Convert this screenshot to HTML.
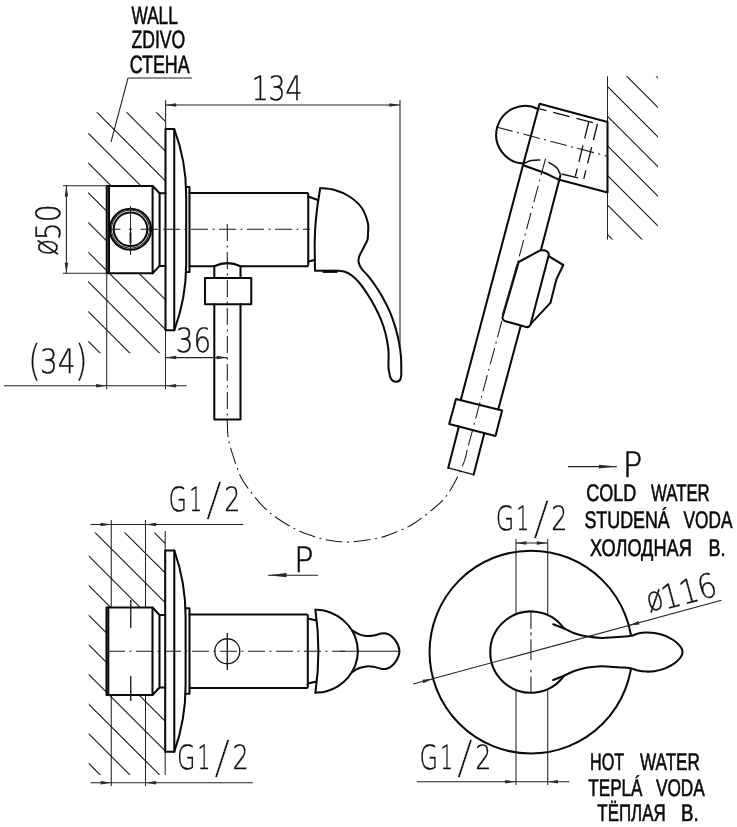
<!DOCTYPE html>
<html><head><meta charset="utf-8"><title>drawing</title>
<style>
html,body{margin:0;padding:0;background:#fff}
svg{display:block;filter:grayscale(1)}
text{text-rendering:geometricPrecision}
.k{fill:none;stroke:#0a0a0a;stroke-width:2.05;stroke-linejoin:round;stroke-linecap:round}
.kk{fill:none;stroke:#0a0a0a;stroke-width:3}
.m{fill:none;stroke:#111;stroke-width:1.3}
.t{fill:none;stroke:#222;stroke-width:1.05}
.h{fill:none;stroke:#111;stroke-width:1.05}
.c{fill:none;stroke:#1a1a1a;stroke-width:1.05;stroke-dasharray:17 4.5 2 4.5}
.d{fill:none;stroke:#111;stroke-width:1.3;stroke-dasharray:17 7}
.ar{fill:#2a2a2a;stroke:none}
.lb{font-family:"Liberation Sans","Noto Sans CJK SC",sans-serif;font-size:24px;fill:#0a0a0a;stroke:#0a0a0a;stroke-width:0.6px}
.dm{font-family:"DejaVu Sans Light","DejaVu Sans","Liberation Sans",sans-serif;font-weight:200;font-size:33.5px;fill:#111;stroke:#111;stroke-width:0.35px}
.pp{font-family:"DejaVu Sans Light","DejaVu Sans","Liberation Sans",sans-serif;font-weight:200;font-size:35px;fill:#111;stroke:#111;stroke-width:0.6px}
</style></head><body>
<svg width="737" height="827" viewBox="0 0 737 827">
<rect width="737" height="827" fill="#fff"/>
<text class="lb" x="131.5" y="23.7" textLength="46.3" lengthAdjust="spacingAndGlyphs" style="font-size:25px">WALL</text>
<text class="lb" x="131.5" y="48.3" textLength="53.8" lengthAdjust="spacingAndGlyphs" style="font-size:25px">ZDIVO</text>
<text class="lb" x="129.7" y="73" textLength="60" lengthAdjust="spacingAndGlyphs" style="font-size:25px">СТЕНА</text>
<line class="t" x1="128" y1="78" x2="192" y2="78"/>
<line class="t" x1="128" y1="78" x2="111" y2="142"/>
<clipPath id="h1"><path clip-rule="evenodd" d="M88.3,112.3 H165.5 V353.3 H88.3 Z M106.75,186 H165.5 V273.3 H106.75 Z"/></clipPath>
<g clip-path="url(#h1)">
<line class="h" x1="151.3" y1="107.3" x2="402.3" y2="358.3"/>
<line class="h" x1="121.6" y1="107.3" x2="372.6" y2="358.3"/>
<line class="h" x1="91.9" y1="107.3" x2="342.9" y2="358.3"/>
<line class="h" x1="62.2" y1="107.3" x2="313.2" y2="358.3"/>
<line class="h" x1="32.5" y1="107.3" x2="283.5" y2="358.3"/>
<line class="h" x1="2.8" y1="107.3" x2="253.8" y2="358.3"/>
<line class="h" x1="-26.9" y1="107.3" x2="224.1" y2="358.3"/>
<line class="h" x1="-56.6" y1="107.3" x2="194.4" y2="358.3"/>
<line class="h" x1="-86.3" y1="107.3" x2="164.7" y2="358.3"/>
<line class="h" x1="-116" y1="107.3" x2="135" y2="358.3"/>
<line class="h" x1="-145.7" y1="107.3" x2="105.3" y2="358.3"/>
</g>
<line class="t" x1="62.9" y1="185.8" x2="106.75" y2="185.8"/>
<line class="t" x1="62.9" y1="273.3" x2="106.75" y2="273.3"/>
<line class="t" x1="66.4" y1="185.8" x2="66.4" y2="273.3"/>
<polygon class="ar" points="66.4,185.8 68.15,196.4 64.65,196.4"/>
<polygon class="ar" points="66.4,273.3 64.65,262.7 68.15,262.7"/>
<text class="dm" transform="translate(57.2,255.8) rotate(-90)" textLength="17" lengthAdjust="spacingAndGlyphs">ø</text>
<text class="dm" transform="translate(60.4,240.3) rotate(-90)" textLength="36" lengthAdjust="spacingAndGlyphs">50</text>
<path class="k" d="M106.75,186 H152.6 L159.6,193.3 V265.9 L152.6,273.3 H106.75 Z"/>
<line class="k" x1="152.6" y1="186" x2="152.6" y2="273.3"/>
<line class="k" x1="109" y1="186" x2="109" y2="273.3"/>
<line class="k" x1="159.6" y1="193.3" x2="165.5" y2="193.3"/>
<line class="k" x1="159.6" y1="265.9" x2="165.5" y2="265.9"/>
<circle class="k" cx="130.5" cy="229.25" r="20.6"/>
<circle class="t" cx="130.5" cy="229.25" r="19"/>
<circle class="k" cx="130.5" cy="229.25" r="16.8"/>
<line class="t" x1="130.5" y1="206" x2="130.5" y2="255"/>
<line class="m" style="stroke-width:1.9" x1="130.5" y1="232.5" x2="130.5" y2="243.5"/>
<path class="k" d="M165.5,129 H174.25 V330.3 H165.5 Z"/>
<path class="k" d="M174.25,129 A189,189 0 0 1 186.2,195 V264.3 A189,189 0 0 1 174.25,330.3"/>
<path class="k" d="M186.25,187 H189.5 V272 H186.25"/>
<path class="k" d="M189.5,193 H307.2 L308.25,194.2 V265 L307.2,266.25 H240.5 M214.3,266.25 H189.5"/>
<path class="k" d="M308.25,196.5 L317.75,200 M308.25,261.5 L314.5,260"/>
<line class="c" style="stroke-dasharray:8.5 8.5 3.3 8.5 8.6 3.6 5 3.7" x1="111.9" y1="229.25" x2="160" y2="229.25"/>
<line class="c" x1="163" y1="229.25" x2="310" y2="229.25"/>
<path class="k" d="M214.3,278 V266.25 Q227.3,260 240.5,266.25 V278"/>
<path class="k" d="M205,278 H251.25 V304.25 H205 Z"/>
<path class="k" d="M214.3,304.25 V419.4 H240.5 V304.25"/>
<line class="c" x1="227.3" y1="224" x2="227.3" y2="421"/>
<path class="k" d="M320.25,188 C322.54,188.28 329.21,188.32 334,189.7 C338.79,191.07 344.42,193.28 349,196.25 C353.58,199.22 358.38,203.12 361.5,207.5 C364.62,211.88 366.67,218.25 367.75,222.5 C368.83,226.75 368.06,230.08 368,233 C367.94,235.92 368.12,237.58 367.4,240 C366.68,242.42 365.07,244.75 363.7,247.5 C362.33,250.25 360.03,254 359.2,256.5 C358.37,259 358.33,260.5 358.7,262.5 C359.07,264.5 359.95,266.38 361.4,268.5 C362.85,270.62 365.15,272.45 367.4,275.2 C369.65,277.95 372.4,281.37 374.9,285 C377.4,288.63 379.9,292.52 382.4,297 C384.9,301.48 387.77,306.92 389.9,311.9 C392.03,316.88 393.7,321.9 395.2,326.9 C396.7,331.9 397.93,336.88 398.9,341.9 C399.87,346.92 400.6,351.48 401,357 C401.4,362.52 401.25,372 401.3,375 C401.08,375.83 400.95,378.87 400,380 C399.05,381.13 397.02,381.88 395.6,381.8 C394.18,381.72 392.43,380.43 391.5,379.5 C390.57,378.57 390.25,376.79 390,376.25 C389.75,374.79 388.73,370.62 388.5,367.5 C388.27,364.38 388.65,360.77 388.6,357.5 C388.55,354.23 388.73,352 388.2,347.9 C387.67,343.8 386.62,337.65 385.4,332.9 C384.18,328.15 382.65,323.77 380.9,319.4 C379.15,315.03 377.15,310.93 374.9,306.7 C372.65,302.47 369.9,297.87 367.4,294 C364.9,290.13 362.38,286.5 359.9,283.5 C357.42,280.5 354.98,277.95 352.5,276 C350.02,274.05 347.5,272.68 345,271.8 C342.5,270.92 338.75,270.88 337.5,270.7 L315,270.7 C314.95,266.42 314.66,252.2 314.7,245 C314.74,237.8 314.82,233.75 315.25,227.5 C315.68,221.25 316.42,214.08 317.25,207.5 C318.08,200.92 319.75,191.25 320.25,188"/>
<line class="kk" x1="322.5" y1="271.4" x2="337.5" y2="271.4"/>
<line class="t" x1="165.6" y1="100" x2="165.6" y2="129"/>
<line class="t" x1="400" y1="100" x2="400" y2="346"/>
<line class="t" x1="165.6" y1="105" x2="400" y2="105"/>
<polygon class="ar" points="165.6,105 176.2,103.25 176.2,106.75"/>
<polygon class="ar" points="400,105 389.4,106.75 389.4,103.25"/>
<text class="dm" x="251.4" y="100" textLength="51" lengthAdjust="spacingAndGlyphs">134</text>
<line class="t" x1="165.5" y1="357.6" x2="227.3" y2="357.6"/>
<polygon class="ar" points="165.5,357.6 176.1,355.85 176.1,359.35"/>
<polygon class="ar" points="227.3,357.6 216.7,359.35 216.7,355.85"/>
<text class="dm" x="175.8" y="352.2" textLength="35.4" lengthAdjust="spacingAndGlyphs">36</text>
<line class="t" x1="106.75" y1="273" x2="106.75" y2="389.3"/>
<line class="t" x1="165.5" y1="330.3" x2="165.5" y2="389.3"/>
<line class="t" x1="4" y1="385.8" x2="186.7" y2="385.8"/>
<polygon class="ar" points="106.75,385.8 96.15,387.55 96.15,384.05"/>
<polygon class="ar" points="165.5,385.8 176.1,384.05 176.1,387.55"/>
<text class="dm" x="28" y="375.1" textLength="13" lengthAdjust="spacingAndGlyphs" style="font-size:42.5px;stroke-width:0.15px">(</text>
<text class="dm" x="40.1" y="372.7" textLength="35.4" lengthAdjust="spacingAndGlyphs">34</text>
<text class="dm" x="74.7" y="375.1" textLength="13" lengthAdjust="spacingAndGlyphs" style="font-size:42.5px;stroke-width:0.15px">)</text>
<path class="c" d="M227.3,420 C227.47,423.08 227.35,432.57 228.3,438.5 C229.25,444.43 230.95,449.27 233,455.6 C235.05,461.93 237.9,470.8 240.6,476.5 C243.3,482.2 245.55,484.9 249.2,489.8 C252.85,494.7 258.07,501.32 262.5,505.9 C266.93,510.48 270.73,513.65 275.8,517.3 C280.87,520.95 287.52,524.95 292.9,527.8 C298.28,530.65 302.4,532.35 308.1,534.4 C313.8,536.45 320.12,538.83 327.1,540.1 C334.08,541.37 341.18,542.4 350,542 C358.82,541.6 371.6,539.67 380,537.7 C388.4,535.73 394.57,532.68 400.4,530.2 C406.23,527.72 409.72,526.2 415,522.8 C420.28,519.4 427.08,514 432.1,509.8 C437.12,505.6 441.17,502.48 445.1,497.6 C449.03,492.72 452.43,486.75 455.7,480.5 C458.97,474.25 462.73,465.52 464.7,460.1 C466.67,454.68 467.03,450.02 467.5,448"/>
<line class="t" x1="607.5" y1="76.25" x2="607.5" y2="239.5"/>
<clipPath id="h2"><path clip-rule="evenodd" d="M607.5,76.25 H658 V239.5 H607.5 Z"/></clipPath>
<g clip-path="url(#h2)">
<line class="h" x1="651.35" y1="71.25" x2="824.6" y2="244.5"/>
<line class="h" x1="621.75" y1="71.25" x2="795" y2="244.5"/>
<line class="h" x1="592.15" y1="71.25" x2="765.4" y2="244.5"/>
<line class="h" x1="562.55" y1="71.25" x2="735.8" y2="244.5"/>
<line class="h" x1="532.95" y1="71.25" x2="706.2" y2="244.5"/>
<line class="h" x1="503.35" y1="71.25" x2="676.6" y2="244.5"/>
<line class="h" x1="473.75" y1="71.25" x2="647" y2="244.5"/>
<line class="h" x1="444.15" y1="71.25" x2="617.4" y2="244.5"/>
</g>
<path class="k" d="M523.3,164.1 L539.6,103.8 L607.5,122 V192.5 L558.5,179.5 C554,178 550,174.8 542.8,172.3 L523.3,165.2"/>
<path class="k" d="M538.2,109 A28.9,28.9 0 1 0 523.3,163.6"/>
<path class="m" d="M523.3,163.6 C524.67,163.1 528.67,161.2 531.5,160.6 C534.33,160 538.83,160.1 540.3,160" style="stroke-width:1.5"/>
<path class="m" d="M548.4,162 C549.77,162.93 554.6,165.52 556.6,167.6 C558.6,169.68 559.77,173.35 560.4,174.5" style="stroke-width:1.5"/>
<line class="k" x1="523.3" y1="164.1" x2="460.9" y2="399.6"/>
<line class="k" x1="560.4" y1="175.5" x2="540.9" y2="250.2"/>
<path class="d" d="M539.6,108.8 L597.5,123.75" stroke-dashoffset="10"/>
<path class="d" d="M597.5,123.75 L583.75,178.75"/>
<path class="d" d="M588.75,122 L575.3,176.5"/>
<path class="d" d="M561.6,174 L583.75,179.3"/>
<line class="c" x1="496.2" y1="127" x2="607.5" y2="156.2"/>
<line class="c" x1="545.5" y1="158.75" x2="467.2" y2="450"/>
<path class="k" d="M549,256.3 L563.3,265 L556.5,279.1 L550.4,302.9 L530.3,324.4" style="fill:#fff"/>
<path class="k" d="M518.7,262 L540.1,250.4 Q547.8,249.4 548.9,254.4 L530.4,325 Q528.4,328.2 525.3,326.7 L504.8,321 Q501.8,319.6 502.7,316.8 Z" style="fill:#fff"/>
<line class="t" x1="517.3" y1="263.5" x2="502.2" y2="315.5"/>
<line class="k" x1="520.6" y1="326.3" x2="498.3" y2="409.2"/>
<path class="k" d="M456,399 L502.1,410.5 L495.5,435.9 L449.2,424.1 Z"/>
<path class="k" d="M458.9,426.6 L448.2,467.9"/>
<path class="k" d="M484.3,433.2 L473.6,474.7"/>
<line class="m" x1="448.2" y1="467.9" x2="473.6" y2="474.7"/>
<line class="t" x1="567.9" y1="466.6" x2="616.8" y2="466.6"/>
<polygon class="ar" points="616.8,466.6 598.8,468.5 598.8,464.7"/>
<text class="pp" x="622.7" y="477.2" textLength="19.6" lengthAdjust="spacingAndGlyphs">P</text>
<text class="lb" x="586.3" y="501.1" textLength="50.1" lengthAdjust="spacingAndGlyphs">COLD</text>
<text class="lb" x="651" y="501.1" textLength="58.7" lengthAdjust="spacingAndGlyphs">WATER</text>
<text class="lb" x="584.4" y="528.4" textLength="85.4" lengthAdjust="spacingAndGlyphs">STUDENÁ</text>
<text class="lb" x="683.5" y="528.4" textLength="48.9" lengthAdjust="spacingAndGlyphs">VODA</text>
<text class="lb" x="590" y="556" textLength="101.8" lengthAdjust="spacingAndGlyphs">ХОЛОДНАЯ</text>
<text class="lb" x="708.4" y="556" textLength="17.1" lengthAdjust="spacingAndGlyphs">В.</text>
<text class="dm" x="168.6" y="511.25" textLength="18.5" lengthAdjust="spacingAndGlyphs">G</text>
<text class="dm" x="189.2" y="511.25" textLength="12.8" lengthAdjust="spacingAndGlyphs">1</text>
<text class="dm" x="205.8" y="514.65" textLength="16.3" lengthAdjust="spacingAndGlyphs" style="font-size:45.6px;stroke:#fff;stroke-width:0.55px">/</text>
<text class="dm" x="224.2" y="511.25" textLength="16.2" lengthAdjust="spacingAndGlyphs">2</text>
<line class="t" x1="90.5" y1="524.5" x2="243.3" y2="524.5"/>
<polygon class="ar" points="111.25,524.5 100.65,526.25 100.65,522.75"/>
<polygon class="ar" points="145.5,524.5 156.1,522.75 156.1,526.25"/>
<line class="t" x1="111.25" y1="520" x2="111.25" y2="607.5"/>
<line class="t" x1="145.5" y1="520" x2="145.5" y2="607.5"/>
<line class="t" x1="111.25" y1="695" x2="111.25" y2="786"/>
<line class="t" x1="145.5" y1="695" x2="145.5" y2="786"/>
<line class="t" x1="165.2" y1="531" x2="165.2" y2="550.5"/>
<line class="t" x1="165.2" y1="751.7" x2="165.2" y2="775"/>
<clipPath id="h3"><path clip-rule="evenodd" d="M88.75,532.5 H165.2 V775 H88.75 Z M106.25,607.5 H165.2 V695 H106.25 Z"/></clipPath>
<g clip-path="url(#h3)">
<line class="h" x1="149.3" y1="527.5" x2="401.8" y2="780"/>
<line class="h" x1="119.65" y1="527.5" x2="372.15" y2="780"/>
<line class="h" x1="90" y1="527.5" x2="342.5" y2="780"/>
<line class="h" x1="60.35" y1="527.5" x2="312.85" y2="780"/>
<line class="h" x1="30.7" y1="527.5" x2="283.2" y2="780"/>
<line class="h" x1="1.05" y1="527.5" x2="253.55" y2="780"/>
<line class="h" x1="-28.6" y1="527.5" x2="223.9" y2="780"/>
<line class="h" x1="-58.25" y1="527.5" x2="194.25" y2="780"/>
<line class="h" x1="-87.9" y1="527.5" x2="164.6" y2="780"/>
<line class="h" x1="-117.55" y1="527.5" x2="134.95" y2="780"/>
<line class="h" x1="-147.2" y1="527.5" x2="105.3" y2="780"/>
</g>
<path class="k" d="M106.5,607.5 H152.5 L159.5,615 V687.5 L152.5,695 H106.5 Z"/>
<line class="k" x1="108.3" y1="607.5" x2="108.3" y2="695"/>
<line class="k" x1="152.5" y1="607.5" x2="152.5" y2="695"/>
<line class="k" x1="159.5" y1="615" x2="165.2" y2="615"/>
<line class="k" x1="159.5" y1="687.5" x2="165.2" y2="687.5"/>
<line class="m" x1="130.75" y1="600" x2="130.75" y2="628"/>
<line class="m" x1="130.75" y1="676" x2="130.75" y2="701"/>
<path class="k" d="M165.2,550.5 H174.3 V751.7 H165.2 Z"/>
<path class="k" d="M174.3,550.5 A198.4,198.4 0 0 1 185.6,616.5 V685.7 A198.4,198.4 0 0 1 174.3,751.7"/>
<path class="k" d="M185.6,608.3 H189.5 V693.7 H185.6"/>
<path class="k" d="M189.5,614.4 H306.8 L307.8,615.4 V687 L306.8,688 H189.5"/>
<path class="k" d="M307.8,618.4 L315.6,620.2 M307.8,683.6 L315.6,681.8"/>
<line class="c" x1="108" y1="651.25" x2="345" y2="651.25"/>
<line class="t" x1="340" y1="651.25" x2="399.6" y2="651.25"/>
<circle class="m" cx="227.3" cy="651.25" r="12.5"/>
<line class="m" x1="227.3" y1="633" x2="227.3" y2="670"/>
<path class="k" d="M315.4,609.7 C317.15,609.9 322.17,609.83 325.9,610.9 C329.63,611.97 334.08,613.73 337.8,616.1 C341.52,618.47 345.33,621.73 348.2,625.1 C351.07,628.47 353.38,631.95 355,636.3 C356.62,640.65 357.9,646.23 357.9,651.2 C357.9,656.17 356.62,661.75 355,666.1 C353.38,670.45 351.07,673.93 348.2,677.3 C345.33,680.67 341.52,683.93 337.8,686.3 C334.08,688.67 329.63,690.43 325.9,691.5 C322.17,692.57 317.15,692.5 315.4,692.7"/>
<path class="k" d="M315.4,609.7 Q321.4,651.2 315.4,692.7"/>
<path class="k" d="M352,630.3 C353.12,630.93 356.35,633.15 358.7,634.1 C361.05,635.05 363.62,635.75 366.1,636 C368.58,636.25 371.1,636 373.6,635.6 C376.1,635.2 379.03,633.95 381.1,633.6 C383.17,633.25 384.35,633.13 386,633.5 C387.65,633.87 389.45,634.67 391,635.8 C392.55,636.93 394.08,638.63 395.3,640.3 C396.52,641.97 397.62,643.98 398.3,645.8 C398.98,647.62 399.4,649.4 399.4,651.2 C399.4,653 398.98,654.78 398.3,656.6 C397.62,658.42 396.52,660.43 395.3,662.1 C394.08,663.77 392.55,665.47 391,666.6 C389.45,667.73 387.65,668.53 386,668.9 C384.35,669.27 383.17,669.15 381.1,668.8 C379.03,668.45 376.1,667.2 373.6,666.8 C371.1,666.4 368.58,666.15 366.1,666.4 C363.62,666.65 361.05,667.35 358.7,668.3 C356.35,669.25 353.12,671.47 352,672.1"/>
<text class="pp" x="294.1" y="572.4" textLength="19.6" lengthAdjust="spacingAndGlyphs">P</text>
<line class="t" x1="268" y1="575.2" x2="318" y2="575.2"/>
<polygon class="ar" points="268,575.2 286.5,573.1 286.5,577.3"/>
<text class="dm" x="176.9" y="769.3" textLength="18.5" lengthAdjust="spacingAndGlyphs">G</text>
<text class="dm" x="197.5" y="769.3" textLength="12.8" lengthAdjust="spacingAndGlyphs">1</text>
<text class="dm" x="214.1" y="772.7" textLength="16.3" lengthAdjust="spacingAndGlyphs" style="font-size:45.6px;stroke:#fff;stroke-width:0.55px">/</text>
<text class="dm" x="232.5" y="769.3" textLength="16.2" lengthAdjust="spacingAndGlyphs">2</text>
<line class="t" x1="90.5" y1="782.7" x2="252.7" y2="782.7"/>
<polygon class="ar" points="111.25,782.7 100.65,784.45 100.65,780.95"/>
<polygon class="ar" points="145.5,782.7 156.1,780.95 156.1,784.45"/>
<circle class="k" cx="530.95" cy="652.1" r="101.4"/>
<line class="t" x1="516" y1="538.9" x2="516" y2="785"/>
<line class="t" x1="547.7" y1="538.9" x2="547.7" y2="785"/>
<path class="k" d="M564.1,628.5 C565.8,629.28 570.35,631.85 574.3,633.2 C578.25,634.55 583.28,635.82 587.8,636.6 C592.32,637.38 597.1,637.78 601.4,637.9 C605.7,638.02 609.77,637.52 613.6,637.3 C617.43,637.08 621.42,636.85 624.4,636.6 C627.38,636.35 629.23,636.3 631.5,635.8 C633.77,635.3 635.57,634.13 638,633.6 C640.43,633.07 643.38,632.7 646.1,632.6 C648.82,632.5 651.35,632.55 654.3,633 C657.25,633.45 660.63,634.13 663.8,635.3 C666.97,636.47 670.67,638.28 673.3,640 C675.93,641.72 678.15,644.05 679.6,645.6 C681.05,647.15 681.52,648.22 682,649.3 C682.48,650.38 682.5,651.17 682.5,652.1 C682.5,653.03 682.48,653.82 682,654.9 C681.52,655.98 681.05,657.05 679.6,658.6 C678.15,660.15 675.93,662.48 673.3,664.2 C670.67,665.92 666.97,667.73 663.8,668.9 C660.63,670.07 657.25,670.75 654.3,671.2 C651.35,671.65 648.82,671.7 646.1,671.6 C643.38,671.5 640.43,671.13 638,670.6 C635.57,670.07 633.77,668.9 631.5,668.4 C629.23,667.9 627.38,667.85 624.4,667.6 C621.42,667.35 617.43,667.12 613.6,666.9 C609.77,666.68 605.7,666.18 601.4,666.3 C597.1,666.42 592.32,666.82 587.8,667.6 C583.28,668.38 578.25,669.65 574.3,671 C570.35,672.35 565.8,674.92 564.1,675.7 A40.7,40.7 0 1 1 564.1,628.5 Z" style="fill:#fff"/>
<line class="k" x1="553.2" y1="624.2" x2="564.1" y2="628.5"/>
<line class="k" x1="553.2" y1="680" x2="564.1" y2="675.7"/>
<line class="c" style="stroke-dasharray:17.6 3.2 3.2 3.8 21 9.5 2.7 4 17" x1="530.95" y1="611.4" x2="530.95" y2="692.8"/>
<text class="dm" x="495.7" y="530.4" textLength="18.5" lengthAdjust="spacingAndGlyphs">G</text>
<text class="dm" x="516.3" y="530.4" textLength="12.8" lengthAdjust="spacingAndGlyphs">1</text>
<text class="dm" x="532.9" y="533.8" textLength="16.3" lengthAdjust="spacingAndGlyphs" style="font-size:45.6px;stroke:#fff;stroke-width:0.55px">/</text>
<text class="dm" x="551.3" y="530.4" textLength="16.2" lengthAdjust="spacingAndGlyphs">2</text>
<line class="t" x1="515.8" y1="542.9" x2="547.4" y2="542.9"/>
<polygon class="ar" points="515.8,542.9 526.4,541.15 526.4,544.65"/>
<polygon class="ar" points="547.4,542.9 536.8,544.65 536.8,541.15"/>
<text class="dm" x="419.6" y="769.3" textLength="18.5" lengthAdjust="spacingAndGlyphs">G</text>
<text class="dm" x="440.2" y="769.3" textLength="12.8" lengthAdjust="spacingAndGlyphs">1</text>
<text class="dm" x="456.8" y="772.7" textLength="16.3" lengthAdjust="spacingAndGlyphs" style="font-size:45.6px;stroke:#fff;stroke-width:0.55px">/</text>
<text class="dm" x="475.2" y="769.3" textLength="16.2" lengthAdjust="spacingAndGlyphs">2</text>
<line class="t" x1="416.7" y1="781.8" x2="569.3" y2="781.8"/>
<polygon class="ar" points="515.8,781.8 505.2,783.55 505.2,780.05"/>
<polygon class="ar" points="547.4,781.8 558,780.05 558,783.55"/>
<line class="t" x1="413.22" y1="684.09" x2="721.44" y2="600.34"/>
<polygon class="ar" points="628.8,625.51 638.57,621.05 639.49,624.42"/>
<polygon class="ar" points="433.1,678.69 423.33,683.15 422.41,679.78"/>
<text class="dm" transform="translate(649.3,612) rotate(-15.2)" textLength="17" lengthAdjust="spacingAndGlyphs">ø</text>
<text class="dm" transform="translate(665.1,609.8) rotate(-15.2)" textLength="55.8" lengthAdjust="spacingAndGlyphs">116</text>
<text class="lb" x="590" y="770.4" textLength="34.2" lengthAdjust="spacingAndGlyphs">HOT</text>
<text class="lb" x="640" y="770.4" textLength="59.9" lengthAdjust="spacingAndGlyphs">WATER</text>
<text class="lb" x="588.3" y="795.6" textLength="54.2" lengthAdjust="spacingAndGlyphs">TEPLÁ</text>
<text class="lb" x="655.9" y="795.6" textLength="48.9" lengthAdjust="spacingAndGlyphs">VODA</text>
<text class="lb" x="597.3" y="820.5" textLength="68.4" lengthAdjust="spacingAndGlyphs">ТЁПЛАЯ</text>
<text class="lb" x="681" y="820.5" textLength="17.7" lengthAdjust="spacingAndGlyphs">В.</text>
</svg>
</body></html>
